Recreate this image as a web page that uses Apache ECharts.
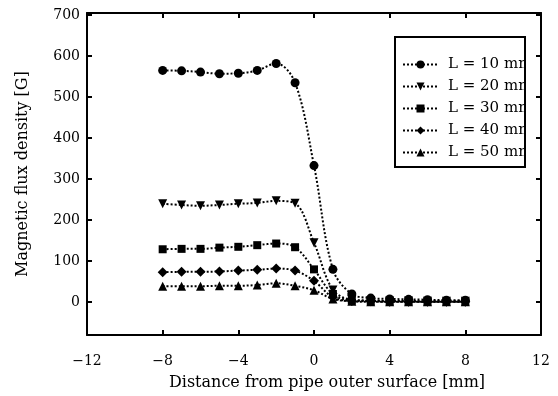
<!DOCTYPE html>
<html>
<head>
<meta charset="utf-8">
<script src="https://cdn.jsdelivr.net/npm/echarts@6/dist/echarts.min.js"></script>
<style>html,body{margin:0;padding:0;background:#fff;}#c{width:558px;height:396px;}</style>
</head>
<body>
<div id="c"></div>
<script>
var xValues = [-8, -7, -6, -5, -4, -3, -2, -1, 0, 1, 2, 3, 4, 5, 6, 7, 8];
var seriesNames = ['L = 10 mm', 'L = 20 mm', 'L = 30 mm', 'L = 40 mm', 'L = 50 mm'];
var L10 = [565, 564, 561, 557, 558, 565, 582, 535, 333, 80, 20, 10, 8, 7, 6, 5, 5];
var L20 = [240, 237, 235, 237, 240, 242, 247, 241, 145, 30, 6, 4, 3, 3, 2, 2, 2];
var L30 = [129, 130, 130, 133, 135, 139, 143, 134, 80, 20, 4, 3, 2, 2, 1, 1, 1];
var L40 = [73, 74, 74, 75, 77, 79, 82, 77, 52, 12, 3, 2, 1, 1, 1, 1, 1];
var L50 = [39, 39, 39, 40, 40, 42, 46, 40, 29, 8, 2, 1, 1, 1, 1, 1, 1];
var yTicks = [0, 100, 200, 300, 400, 500, 600, 700];
var xTicks = [-12, -8, -4, 0, 4, 8, 12];

var allValues = [L10, L20, L30, L40, L50];
var symbols = ['circle', 'triangle', 'rect', 'diamond', 'triangle'];
var rotations = [0, 180, 0, 0, 0];
var sizes = [9, 9, 8, 10, 9];

function pairs(vals) { return xValues.map(function (x, i) { return [x, vals[i]]; }); }
function fmt(v) { return String(v).replace('-', '\u2212'); }

var serifFont = 'DejaVu Serif';
var series = allValues.map(function (vals, k) {
  return {
    name: seriesNames[k],
    type: 'line',
    data: pairs(vals),
    smooth: 0.35,
    symbol: symbols[k],
    symbolRotate: rotations[k],
    symbolSize: sizes[k],
    itemStyle: { color: '#000' },
    lineStyle: { color: '#000', width: 2, type: 'dotted' },
    animation: false
  };
});

var axisLine = { show: true, onZero: false, lineStyle: { color: '#000', width: 2 } };

var chart = echarts.init(document.getElementById('c'), null, { renderer: 'canvas' });
chart.setOption({
  backgroundColor: '#fff',
  animation: false,
  grid: { left: 87, right: 17, top: 13, bottom: 61 },
  xAxis: [{
    type: 'value', min: -12, max: 12, interval: 4, position: 'bottom',
    axisLine: axisLine,
    axisTick: { show: true, inside: true, length: 5, lineStyle: { color: '#000', width: 2 } },
    axisLabel: { margin: 19, color: '#000', fontFamily: serifFont, fontSize: 14, formatter: fmt },
    splitLine: { show: false },
    name: 'Distance from pipe outer surface [mm]',
    nameLocation: 'middle', nameGap: 40,
    nameTextStyle: { color: '#000', fontFamily: serifFont, fontSize: 16, padding: [0, 0, 0, 26] }
  }, {
    type: 'value', min: -12, max: 12, interval: 4, position: 'top',
    axisLine: axisLine,
    axisTick: { show: true, inside: true, length: 5, lineStyle: { color: '#000', width: 2 } },
    axisLabel: { show: false },
    splitLine: { show: false }
  }],
  yAxis: [{
    type: 'value', min: -80, max: 705, position: 'left',
    axisLine: axisLine,
    axisTick: { show: true, inside: true, length: 5, customValues: yTicks, lineStyle: { color: '#000', width: 2 } },
    axisLabel: { margin: 7, color: '#000', fontFamily: serifFont, fontSize: 14, customValues: yTicks, formatter: fmt },
    splitLine: { show: false },
    name: 'Magnetic flux density [G]',
    nameLocation: 'middle', nameGap: 56,
    nameTextStyle: { color: '#000', fontFamily: serifFont, fontSize: 16 }
  }, {
    type: 'value', min: -80, max: 705, position: 'right',
    axisLine: axisLine,
    axisTick: { show: true, inside: true, length: 5, customValues: yTicks, lineStyle: { color: '#000', width: 2 } },
    axisLabel: { show: false },
    splitLine: { show: false }
  }],
  legend: {
    orient: 'vertical', left: 395, top: 37,
    padding: [20, 0, 0, 7],
    itemGap: 7, itemWidth: 35, itemHeight: 10,
    textStyle: { color: '#000', fontFamily: serifFont, fontSize: 15, lineHeight: 14, padding: [0, 0, 0, 5] },
    data: seriesNames
  },
  graphic: [
    { type: 'rect', z: 100, shape: { x: 526, y: 38, width: 9, height: 128 }, style: { fill: '#fff' } },
    { type: 'rect', z: 101, shape: { x: 395, y: 37, width: 130, height: 130 }, style: { fill: null, stroke: '#000', lineWidth: 2 } }
  ],
  series: series
});
</script>
</body>
</html>
